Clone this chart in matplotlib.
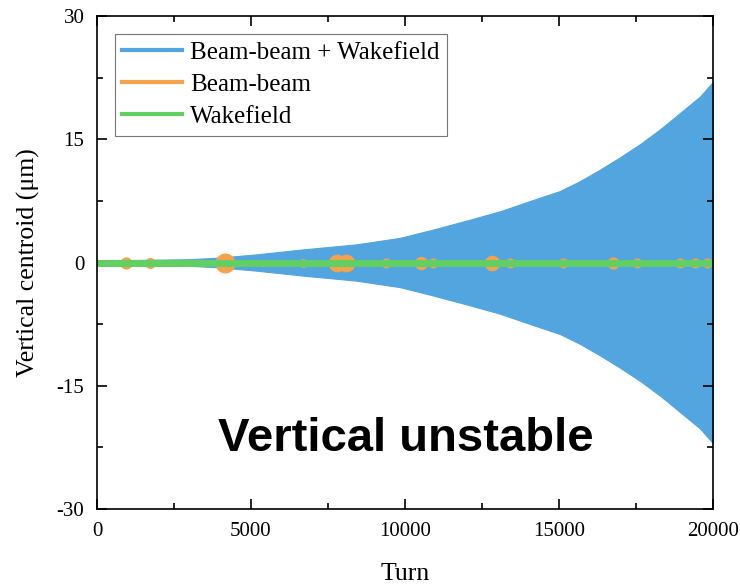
import numpy as np
import matplotlib.pyplot as plt
from matplotlib.ticker import MultipleLocator
from matplotlib.lines import Line2D

# envelope of the beam-beam + wakefield oscillation
turns = [0, 1000, 2000, 3000, 4000, 5200, 6700, 8400, 9840, 10900, 12000,
         13100, 14150, 15030, 15680, 16330, 16980, 17630, 18280, 18930,
         19580, 20000]
amp = [0.3, 0.3, 0.35, 0.4, 0.6, 1.0, 1.6, 2.2, 3.0, 4.0, 5.1,
       6.25, 7.6, 8.7, 9.9, 11.3, 12.8, 14.4, 16.2, 18.2,
       20.2, 22.0]

# small blobs of the beam-beam only case (turn, half height)
bb_turns = [940, 1720, 4160, 6690, 7800, 8100, 9400, 10520, 10900, 12820,
            13400, 15130, 16750, 17530, 18930, 19400, 19800]
bb_amp = [0.55, 0.5, 0.9, 0.4, 0.8, 0.8, 0.45, 0.6, 0.45, 0.7,
          0.45, 0.45, 0.55, 0.45, 0.45, 0.45, 0.45]

wake_turns = [0, 20000]
wake_y = [0, 0]

plt.rcParams['font.family'] = ['Liberation Serif', 'DejaVu Serif']
plt.rcParams['axes.unicode_minus'] = False

fig = plt.figure(figsize=(7.4, 5.84), dpi=100)
ax = fig.add_axes([0.131, 0.1284, 0.8325, 0.8442])

blue = '#52a5de'
orange = '#f5a24c'
green = '#62cf62'

t = np.array(turns)
a = np.array(amp)
ax.fill_between(t, -a, a, color=blue, lw=0.8, edgecolor=blue)

ax.plot(wake_turns, wake_y, color=orange, lw=2.5)
for bt, ba in zip(bb_turns, bb_amp):
    ax.plot(bt, 0, 'o', color=orange, ms=ba * 16, markeredgewidth=0)

ax.plot(wake_turns, wake_y, color=green, lw=5)

ax.set_xlim(0, 20000)
ax.set_ylim(-30, 30)
ax.set_xticks([0, 5000, 10000, 15000, 20000])
ax.set_yticks([-30, -15, 0, 15, 30])
ax.xaxis.set_minor_locator(MultipleLocator(2500))
ax.yaxis.set_minor_locator(MultipleLocator(7.5))
ax.tick_params(which='both', direction='in', top=True, right=True,
               labelsize=15, width=1.2, pad=9)
ax.tick_params(which='major', length=7)
ax.tick_params(which='minor', length=4)
for s in ax.spines.values():
    s.set_linewidth(1.2)

ax.set_xlabel('Turn', fontsize=18.5, labelpad=16)
ax.set_ylabel('Vertical centroid (μm)', fontsize=18.5, labelpad=12)

handles = [Line2D([], [], color=blue, lw=3),
           Line2D([], [], color=orange, lw=3),
           Line2D([], [], color=green, lw=3)]
labels = ['Beam-beam + Wakefield', 'Beam-beam', 'Wakefield']
leg = ax.legend(handles, labels, loc='upper left', fontsize=18, frameon=True,
                fancybox=False, edgecolor='#555555', handlelength=2.4,
                borderaxespad=0.72, labelspacing=0.38, borderpad=0.3,
                handletextpad=0.3)
leg.get_frame().set_linewidth(0.8)

ax.text(0.502, 0.143, 'Vertical unstable', transform=ax.transAxes,
        ha='center', va='center', fontsize=34, fontweight='bold',
        family=['Liberation Sans', 'DejaVu Sans'])

fig.savefig('out.png', dpi=100)
